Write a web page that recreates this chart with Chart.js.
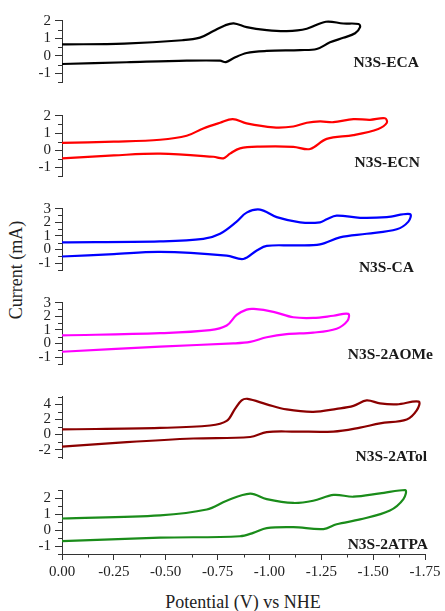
<!DOCTYPE html>
<html>
<head>
<meta charset="utf-8">
<script src="https://cdn.jsdelivr.net/npm/chart.js@4/dist/chart.umd.min.js"></script>
<style>
  body { margin: 0; background: #fff; width: 445px; height: 611px; overflow: hidden; position: relative;
         font-family: 'Liberation Serif', 'Times New Roman', serif; color: #222; }
  .panel { position: absolute; left: 0; }
  .tag { position: absolute; font-weight: bold; font-size: 15.5px; line-height: 18px; white-space: nowrap; color: #1a1a1a; }
  #ytitle { position: absolute; left: 16px; top: 270px; transform: translate(-50%, -50%) rotate(-90deg);
            font-size: 18px; line-height: 20px; white-space: nowrap; }
  #xtitle { position: absolute; left: 243px; top: 592px; transform: translateX(-50%);
            font-size: 18px; line-height: 20px; white-space: nowrap; }
</style>
</head>
<body>
<div id="ytitle">Current (mA)</div>
<div id="xtitle">Potential (V) vs NHE</div>
<script>
// ---- data (potential in V vs NHE, current in mA), loop order ----
const panelNames = ['N3S-ECA', 'N3S-ECN', 'N3S-CA', 'N3S-2AOMe', 'N3S-2ATol', 'N3S-2ATPA'];

const ecaV = [0, -0.30, -0.58, -0.665, -0.73, -0.785, -0.828, -0.89, -0.987, -1.083, -1.18, -1.272, -1.356, -1.43, -1.437,
              -1.413, -1.356, -1.292, -1.228, -1.148, -0.987, -0.89, -0.826, -0.79, -0.762, -0.601, -0.312, 0];
const ecaI = [0.65, 0.70, 0.89, 1.04, 1.42, 1.74, 1.86, 1.64, 1.47, 1.41, 1.55, 1.95, 1.85, 1.82, 1.64,
              1.29, 1.03, 0.77, 0.39, 0.33, 0.28, 0.16, -0.14, -0.36, -0.28, -0.28, -0.37, -0.47];

const ecnV = [0, -0.25, -0.473, -0.601, -0.681, -0.762, -0.823, -0.89, -1.019, -1.115, -1.18, -1.244, -1.308, -1.405, -1.485, -1.557, -1.566,
              -1.525, -1.405, -1.276, -1.196, -1.115, -0.955, -0.858, -0.81, -0.778, -0.73, -0.473, -0.25, 0];
const ecnI = [0.43, 0.50, 0.61, 0.84, 1.27, 1.60, 1.81, 1.56, 1.33, 1.38, 1.60, 1.68, 1.63, 1.81, 1.77, 1.86, 1.60,
              1.24, 0.88, 0.66, 0.07, 0.20, 0.21, 0.11, -0.20, -0.47, -0.38, -0.20, -0.30, -0.47];

const caV = [0, -0.473, -0.681, -0.762, -0.842, -0.89, -0.955, -1.035, -1.148, -1.244, -1.276, -1.324, -1.437, -1.566, -1.678,
             -1.67, -1.614, -1.469, -1.34, -1.244, -1.115, -0.987, -0.939, -0.874, -0.794, -0.473, -0.25, 0];
const caI = [0.53, 0.60, 0.78, 1.16, 2.05, 2.71, 2.93, 2.38, 2.00, 2.00, 2.23, 2.49, 2.33, 2.38, 2.60,
             2.05, 1.49, 1.16, 0.89, 0.38, 0.31, 0.27, -0.07, -0.69, -0.44, -0.17, -0.33, -0.51];

const aomeV = [0, -0.473, -0.714, -0.794, -0.842, -0.89, -0.925, -1.019, -1.115, -1.211, -1.308, -1.38,
               -1.376, -1.324, -1.211, -1.083, -0.987, -0.907, -0.826, -0.473, 0];
const aomeI = [0.60, 0.76, 0.98, 1.32, 2.10, 2.49, 2.54, 2.33, 1.93, 1.88, 2.04, 2.18,
               1.66, 1.09, 0.80, 0.69, 0.46, 0.12, 0.01, -0.22, -0.60];

const tolV = [0, -0.473, -0.714, -0.794, -0.834, -0.866, -0.895, -0.987, -1.083, -1.211, -1.324, -1.405, -1.469, -1.533, -1.614, -1.72,
              -1.71, -1.662, -1.533, -1.437, -1.308, -1.115, -0.987, -0.907, -0.633, -0.312, 0];
const tolI = [0.68, 0.88, 1.20, 1.80, 3.40, 4.52, 4.72, 4.00, 3.32, 3.00, 3.40, 3.80, 4.52, 4.12, 4.00, 4.35,
              3.20, 2.00, 1.48, 0.92, 0.40, 0.40, 0.32, -0.32, -0.52, -1.00, -1.60];

const tpaV = [0, -0.473, -0.698, -0.794, -0.907, -0.987, -1.115, -1.211, -1.31, -1.405, -1.533, -1.654,
              -1.646, -1.581, -1.437, -1.324, -1.26, -1.115, -0.987, -0.922, -0.858, -0.473, 0];
const tpaI = [0.72, 0.92, 1.28, 1.83, 2.27, 1.93, 1.69, 1.83, 2.19, 2.08, 2.29, 2.50,
              1.93, 1.22, 0.66, 0.36, 0.06, 0.18, 0.12, -0.18, -0.39, -0.48, -0.70];

const potentials = [ecaV, ecnV, caV, aomeV, tolV, tpaV];
const currents = [ecaI, ecnI, caI, aomeI, tolI, tpaI];

const yTicks = [[2, 1, 0, -1], [2, 1, 0, -1], [3, 2, 1, 0, -1], [3, 2, 1, 0, -1], [4, 2, 0, -2], [2, 1, 0, -1]];
const xTicks = [0, -0.25, -0.5, -0.75, -1, -1.25, -1.5, -1.75];

// ---- layout and style ----
const colors = ['#000000', '#ff0000', '#0000ff', '#ff00ff', '#8b0000', '#1a8c1a'];
const panelTop = [17, 112, 205, 299, 393, 487];
const panelH = [68, 67, 68, 68, 68, 67];
const yRange = [[-1.5, 2.05], [-1.5, 2.05], [-1.5, 3.05], [-1.5, 3.05], [-3.1, 5.1], [-1.5, 2.5]];
const yMinor = [0.5, 0.5, 0.5, 0.5, 1, 0.5];
const tagRight = [419, 420, 414, 433, 427, 428];
const tagMid = [62, 162, 267, 354, 456, 544];
const axisColor = '#333';

Chart.defaults.font.family = "'Liberation Serif', 'Times New Roman', serif";
Chart.defaults.font.size = 15;
Chart.defaults.color = '#222';

// short minor ticks between the labelled ones
const minorTicks = {
  id: 'minorTicks',
  afterDraw(chart, args, opts) {
    const ctx = chart.ctx;
    ctx.save();
    ctx.strokeStyle = axisColor;
    ctx.lineWidth = 1;
    ['x', 'y'].forEach(id => {
      const step = opts[id];
      const s = chart.scales[id];
      if (!step) return;
      const majors = s.ticks.map(t => t.value);
      for (let k = Math.ceil(s.min / step - 1e-9); k <= Math.floor(s.max / step + 1e-9); k++) {
        const v = k * step;
        if (majors.some(m => Math.abs(m - v) < 1e-6)) continue;
        const p = Math.round(s.getPixelForValue(v)) + 0.5;
        ctx.beginPath();
        if (id === 'y') { ctx.moveTo(s.right - 4, p); ctx.lineTo(s.right, p); }
        else { ctx.moveTo(p, s.top); ctx.lineTo(p, s.top + 3.5); }
        ctx.stroke();
      }
    });
    ctx.restore();
  }
};

panelNames.forEach((name, i) => {
  const last = i === panelNames.length - 1;
  const div = document.createElement('div');
  div.className = 'panel';
  div.style.top = (panelTop[i] - 10) + 'px';
  const canvas = document.createElement('canvas');
  canvas.width = 445;
  canvas.height = last ? 10 + panelH[i] + 30 : panelH[i] + 20;
  div.appendChild(canvas);
  document.body.appendChild(div);

  const tag = document.createElement('div');
  tag.className = 'tag';
  tag.textContent = name;
  tag.style.right = (445 - tagRight[i]) + 'px';
  tag.style.top = (tagMid[i] - 9) + 'px';
  document.body.appendChild(tag);

  new Chart(canvas, {
    type: 'line',
    data: {
      datasets: [{
        data: potentials[i].map((v, k) => ({ x: v, y: currents[i][k] })),
        borderColor: colors[i],
        borderWidth: 2.2,
        pointRadius: 0,
        tension: 0.35,
        fill: false,
        clip: 6
      }]
    },
    options: {
      responsive: false,
      animation: false,
      devicePixelRatio: 1,
      layout: { autoPadding: false, padding: { top: 10, bottom: last ? 0 : 10, left: 0, right: 20 } },
      plugins: {
        legend: { display: false },
        tooltip: { enabled: false },
        minorTicks: { x: last ? 0.125 : 0, y: yMinor[i] }
      },
      scales: {
        x: {
          type: 'linear',
          reverse: true,
          min: -1.75,
          max: 0,
          display: last,
          afterBuildTicks: s => { s.ticks = xTicks.map(v => ({ value: v })); },
          afterFit: s => { s.height = last ? 30 : 0; },
          grid: { drawOnChartArea: false, drawTicks: true, tickLength: 6, color: axisColor, lineWidth: 1 },
          border: { display: true, color: axisColor, width: 1 },
          ticks: { callback: v => v.toFixed(2), padding: 3, maxRotation: 0, autoSkip: false }
        },
        y: {
          type: 'linear',
          min: yRange[i][0],
          max: yRange[i][1],
          afterBuildTicks: s => { s.ticks = yTicks[i].map(v => ({ value: v })); },
          afterFit: s => { s.width = 62; },
          grid: { drawOnChartArea: false, drawTicks: true, tickLength: 7, color: axisColor, lineWidth: 1 },
          border: { display: true, color: axisColor, width: 1 },
          ticks: { callback: v => String(v), padding: 4, autoSkip: false }
        }
      }
    },
    plugins: [minorTicks]
  });
});
</script>
</body>
</html>
